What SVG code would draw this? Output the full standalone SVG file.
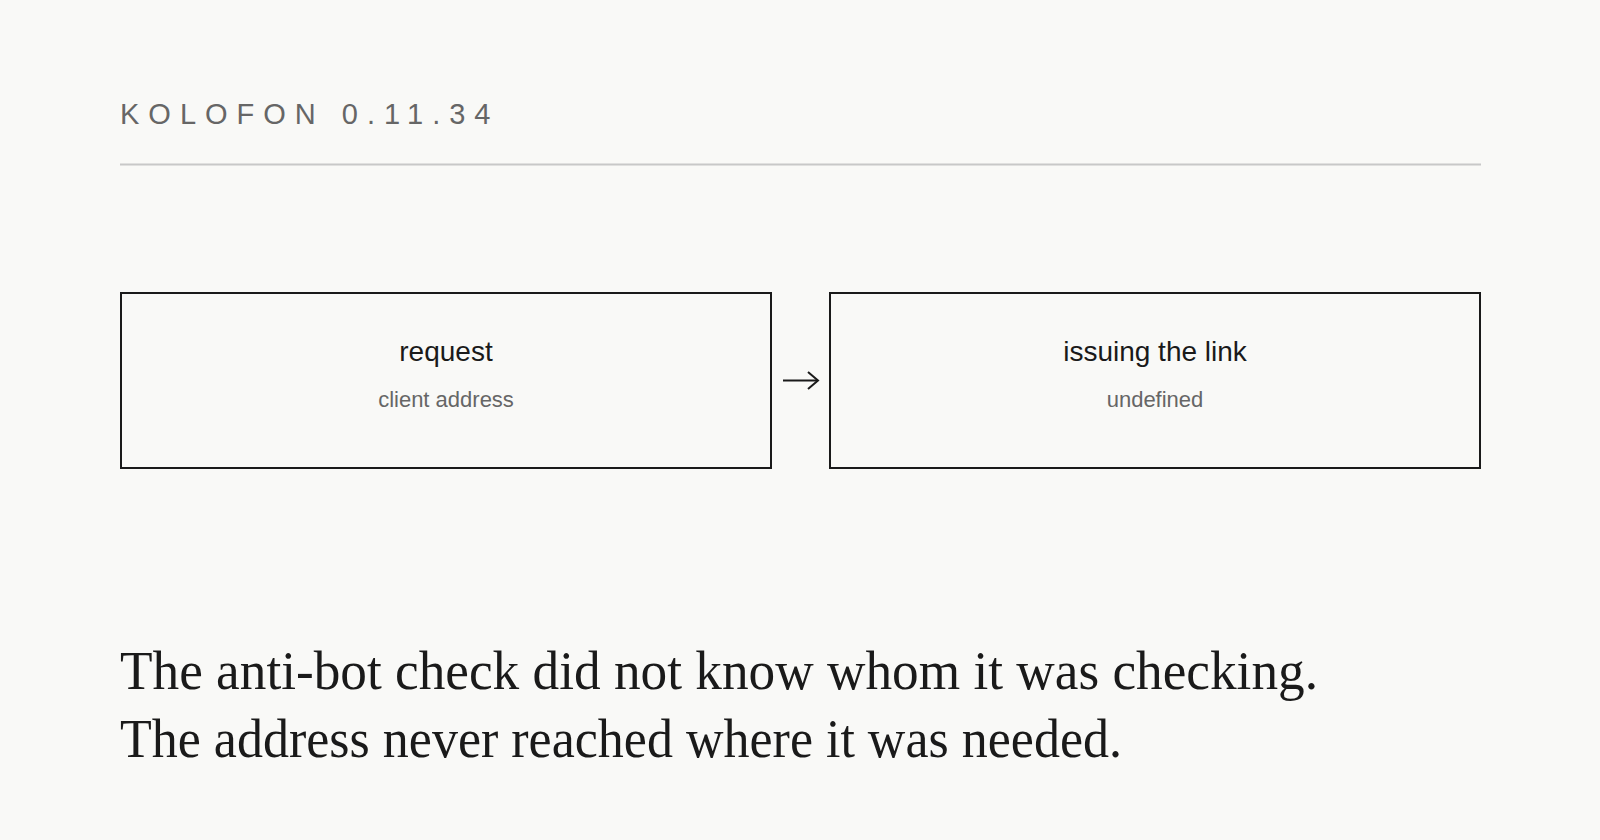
<svg xmlns="http://www.w3.org/2000/svg" width="1600" height="840" viewBox="0 0 1600 840">
<style>
.box{fill:none;stroke:#1a1a1a;stroke-width:2}
.t{font-family:"Liberation Sans",Arial,sans-serif;font-size:28px;fill:#1a1a1a;text-anchor:middle}
.s{font-family:"Liberation Sans",Arial,sans-serif;font-size:22px;fill:#666;text-anchor:middle}
.big{font-family:"Liberation Serif","Times New Roman",serif;font-size:54px;fill:#1a1a1a}
</style>
<rect width="1600" height="840" fill="#f9f9f7"/>
<text x="120" y="124" font-family="Liberation Sans,Arial,sans-serif" font-size="29" letter-spacing="9" fill="#666">KOLOFON 0.11.34</text>
<line x1="120" y1="164.5" x2="1481" y2="164.5" stroke="#c8c8c8" stroke-width="2"/>
<g id="node-request">
<rect class="box" x="121" y="293" width="650" height="175"/>
<text class="t" x="446" y="361">request</text>
<text class="s" x="446" y="407">client address</text>
</g>
<g id="node-issuing">
<rect class="box" x="830" y="293" width="650" height="175"/>
<text class="t" x="1155" y="361">issuing the link</text>
<text class="s" x="1155" y="407">undefined</text>
</g>
<g id="connectors" stroke="#1a1a1a" stroke-width="2" fill="none">
<line x1="783" y1="380.5" x2="818" y2="380.5"/>
<polyline points="808,372 818,380.5 808,389"/>
</g>
<text class="big" x="120" y="689" textLength="1198" lengthAdjust="spacingAndGlyphs">The anti-bot check did not know whom it was checking.</text>
<text class="big" x="120" y="757" textLength="1002" lengthAdjust="spacingAndGlyphs">The address never reached where it was needed.</text>
</svg>
